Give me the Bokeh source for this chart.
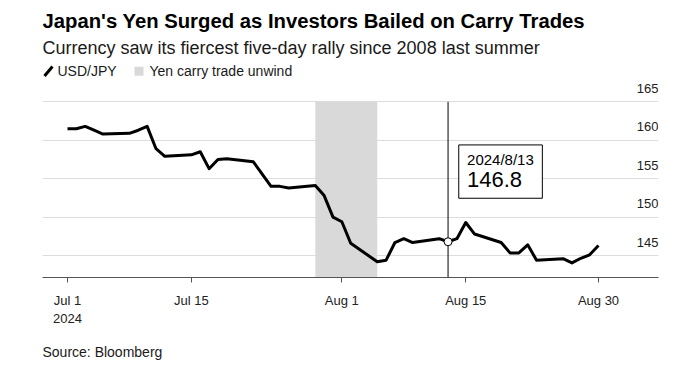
import pandas as pd
from bokeh.plotting import figure
from bokeh.models import (ColumnDataSource, Label, LabelSet, BoxAnnotation,
                          Arrow, FixedTicker, Title)
from bokeh.core.properties import value
from bokeh.embed import file_html
from bokeh.resources import INLINE

# ---------------- data ----------------
dates = [
    "2024-07-01", "2024-07-02", "2024-07-03", "2024-07-04", "2024-07-05",
    "2024-07-08", "2024-07-09", "2024-07-10", "2024-07-11", "2024-07-12",
    "2024-07-15", "2024-07-16", "2024-07-17", "2024-07-18", "2024-07-19",
    "2024-07-22", "2024-07-23", "2024-07-24", "2024-07-25", "2024-07-26",
    "2024-07-29", "2024-07-30", "2024-07-31", "2024-08-01", "2024-08-02",
    "2024-08-05", "2024-08-06", "2024-08-07", "2024-08-08", "2024-08-09",
    "2024-08-12", "2024-08-13", "2024-08-14", "2024-08-15", "2024-08-16",
    "2024-08-19", "2024-08-20", "2024-08-21", "2024-08-22", "2024-08-23",
    "2024-08-26", "2024-08-27", "2024-08-28", "2024-08-29", "2024-08-30",
]
usdjpy = [
    161.5, 161.5, 161.8, 161.3, 160.8,
    160.9, 161.3, 161.8, 158.9, 157.9,
    158.1, 158.5, 156.3, 157.5, 157.6,
    157.2, 155.6, 154.0, 154.0, 153.8,
    154.1, 152.8, 150.0, 149.4, 146.6,
    144.2, 144.4, 146.7, 147.2, 146.7,
    147.2, 146.8, 147.2, 149.3, 147.8,
    146.7, 145.35, 145.35, 146.4, 144.4,
    144.6, 144.05, 144.65, 145.1, 146.3,
]
shade_start = "2024-07-29"
shade_end = "2024-08-05"
highlight_date = "2024-08-13"
highlight_label = "2024/8/13"

x_tick_dates = ["2024-07-01", "2024-07-15", "2024-08-01", "2024-08-15", "2024-08-30"]
x_tick_labels = ["Jul 1\n2024", "Jul 15", "Aug 1", "Aug 15", "Aug 30"]
y_ticks = [145, 150, 155, 160, 165]
y_tick_labels = ["145", "150", "155", "160", "165"]

title = "Japan's Yen Surged as Investors Bailed on Carry Trades"
subtitle = "Currency saw its fiercest five-day rally since 2008 last summer"
legend_line = "USD/JPY"
legend_shade = "Yen carry trade unwind"
source_text = "Source: Bloomberg"

# ---------------- layout ----------------
FONT = "Liberation Sans"
DAY = 86400000.0
W, H = 692, 373
FL, FR, FB = 42, 658, 279          # frame edges (frame top = 0, holds the header)
GRID_TOP_PX = 102                  # where the top gridline (165) sits
PX_PER_DAY = 8.85
FIRST_PX = 67


def ms(d):
    return pd.Timestamp(d).value / 1e6


x_start = ms(dates[0]) - (FIRST_PX - FL) / PX_PER_DAY * DAY
x_end = x_start + (FR - FL) / PX_PER_DAY * DAY
y_start = 142.15
PX_PER_UNIT = (FB - GRID_TOP_PX) / (max(y_ticks) - y_start)
y_end = y_start + FB / PX_PER_UNIT


def dx(px):
    return px / PX_PER_DAY * DAY


def dy(px):
    return px / PX_PER_UNIT


def px_x(px):   # page x -> data x
    return x_start + dx(px - FL)


def px_y(py):   # page y -> data y
    return y_start + dy(FB - py)


p = figure(width=W, height=H, x_axis_type="datetime",
           x_range=(x_start, x_end), y_range=(y_start, y_end),
           output_backend="svg", toolbar_location=None,
           min_border_left=FL, min_border_right=W - FR,
           min_border_top=0, min_border_bottom=H - FB)
p.outline_line_color = None
p.background_fill_color = "white"
p.border_fill_color = "white"

p.yaxis.visible = False
p.xgrid.visible = False
p.ygrid.ticker = FixedTicker(ticks=y_ticks)
p.ygrid.grid_line_color = "#dddddd"
p.ygrid.grid_line_width = 1

xt = [ms(d) for d in x_tick_dates]
p.xaxis.ticker = FixedTicker(ticks=xt)
p.xaxis.major_label_overrides = {t: l for t, l in zip(xt, x_tick_labels)}
p.xaxis.minor_tick_line_color = None
p.xaxis.major_tick_in = 0
p.xaxis.major_tick_out = 5
p.xaxis.axis_line_color = "#555555"
p.xaxis.major_tick_line_color = "#555555"
p.xaxis.major_label_text_font = FONT
p.xaxis.major_label_text_font_size = "13px"
p.xaxis.major_label_text_color = "#222222"
p.xaxis.major_label_standoff = 10

# shaded period (from axis up to top gridline)
shade = BoxAnnotation(left=ms(shade_start), right=ms(shade_end), top=max(y_ticks),
                      fill_color="#d9d9d9", fill_alpha=1.0, line_color=None,
                      level="underlay")
p.add_layout(shade)

# line
src = ColumnDataSource(dict(x=[ms(d) for d in dates], y=usdjpy))
p.line("x", "y", source=src, line_color="black", line_width=3, line_join="round")

# y tick labels (inside, right aligned, above gridlines)
ylab = ColumnDataSource(dict(x=[x_end] * len(y_ticks),
                             y=[t + dy(9) for t in y_ticks],
                             text=y_tick_labels))
p.add_layout(LabelSet(x="x", y="y", text="text", source=ylab,
                      text_align="right", text_baseline="alphabetic",
                      text_font=value(FONT), text_font_size="13px",
                      text_color="#222222"))

# highlight
hx = ms(highlight_date)
hv = usdjpy[dates.index(highlight_date)]
p.segment(x0=[hx], y0=[y_start], x1=[hx], y1=[max(y_ticks)],
          line_color="black", line_width=1)
p.scatter([hx], [hv], size=8, fill_color="white", line_color="black", line_width=1)
p.add_layout(BoxAnnotation(left=hx + dx(10.7), right=hx + dx(94.3),
                           top=hv + dy(97.5), bottom=hv + dy(43.8),
                           fill_color="white", fill_alpha=1.0,
                           line_color="black", line_width=1, line_alpha=1.0))
p.add_layout(Label(x=hx + dx(19), y=hv + dy(82.5), text=highlight_label,
                   text_font=FONT, text_font_size="15px", text_baseline="middle",
                   text_color="black"))
p.add_layout(Label(x=hx + dx(19), y=hv + dy(62.5), text=f"{hv:.1f}",
                   text_font=FONT, text_font_size="22px", text_baseline="middle",
                   text_color="black"))

# header: title, subtitle, legend (inside the frame, above the top gridline)
p.add_layout(Label(x=px_x(42), y=px_y(20.5), text=title, text_font=FONT,
                   text_font_size="20.3px", text_font_style="bold",
                   text_baseline="middle", text_color="black"))
p.add_layout(Label(x=px_x(42), y=px_y(48), text=subtitle, text_font=FONT,
                   text_font_size="18px", text_baseline="middle", text_color="#1a1a1a"))
p.add_layout(Arrow(x_start=px_x(44), y_start=px_y(76), x_end=px_x(52), y_end=px_y(66.5),
                   end=None, line_color="black", line_width=3))
p.add_layout(Label(x=px_x(57), y=px_y(71.3), text=legend_line, text_font=FONT,
                   text_font_size="14px", text_baseline="middle", text_color="#1a1a1a"))
p.add_layout(BoxAnnotation(left=px_x(134), right=px_x(143),
                           top=px_y(66.8), bottom=px_y(75.8),
                           fill_color="#d9d9d9", fill_alpha=1.0, line_color=None))
p.add_layout(Label(x=px_x(149), y=px_y(71.3), text=legend_shade, text_font=FONT,
                   text_font_size="14px", text_baseline="middle", text_color="#1a1a1a"))

# source below the axis
p.add_layout(Title(text=source_text, align="left", text_font=FONT,
                   text_font_size="14px", text_font_style="normal",
                   text_color="#1a1a1a", standoff=27), "below")

open("out.html", "w").write(file_html(p, INLINE))
